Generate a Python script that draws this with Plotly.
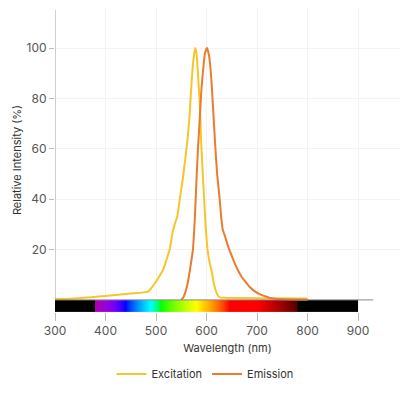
import plotly.graph_objects as go

# ---- data ----
ex_wl = [300, 330, 400, 450, 484, 492, 500, 507, 514, 520, 527, 533, 537, 542, 547, 553, 558,
         562, 566, 569, 572, 575, 577.5, 580, 583, 586, 589, 592, 595, 598, 602, 606, 610,
         614, 617, 620, 624, 628, 640, 700, 800]
ex_val = [0.4, 0.5, 1.6, 2.5, 3.3, 5.0, 7.3, 9.5, 12.0, 15.5, 20.0, 27.0, 30.0, 33.0, 40.0,
          48.0, 56.0, 63.0, 72.0, 82.0, 91.0, 97.0, 100.0, 98.0, 90.0, 80.0, 65.0, 52.0,
          41.0, 30.0, 20.0, 15.0, 11.5, 7.0, 4.5, 2.8, 1.3, 0.9, 0.8, 0.7, 0.6]

em_wl = [550, 554, 558, 563, 568, 573, 577, 580, 583, 586, 590, 594, 597, 601, 605, 609, 613,
         617, 621, 624, 626, 629, 632, 637, 643, 650, 657, 663, 670, 678, 686, 695, 705,
         715, 725, 740, 770, 800]
em_val = [0.0, 1.0, 3.0, 7.0, 13.0, 20.0, 33.0, 47.0, 60.0, 70.0, 84.0, 93.0, 98.0, 100.0,
          97.0, 89.0, 76.0, 62.0, 50.0, 44.0, 40.0, 33.0, 28.0, 25.0, 21.0, 17.5, 14.0,
          11.5, 9.0, 7.0, 5.0, 3.5, 2.3, 1.5, 0.8, 0.4, 0.2, 0.1]

x_ticks = [300, 400, 500, 600, 700, 800, 900]
y_ticks = [20, 40, 60, 80, 100]

EX_COLOR = "#F7C52A"
EM_COLOR = "#EC7B2D"
FONT = "Inter"

# ---- visible spectrum strip ----
def wl_rgb(w):
    if w < 380 or w > 780:
        return (0, 0, 0)
    if w < 440:
        r, g, b = -(w - 440) / 60, 0.0, 1.0
    elif w < 490:
        r, g, b = 0.0, (w - 440) / 50, 1.0
    elif w < 510:
        r, g, b = 0.0, 1.0, -(w - 510) / 20
    elif w < 580:
        r, g, b = (w - 510) / 70, 1.0, 0.0
    elif w < 645:
        r, g, b = 1.0, -(w - 645) / 65, 0.0
    else:
        r, g, b = 1.0, 0.0, 0.0
    if w < 420:
        f = 0.6 + 0.4 * (w - 380) / 40
    elif w <= 700:
        f = 1.0
    else:
        f = 0.25 + 0.75 * (780 - w) / 80
    c = lambda v: int(round(255 * (v * f) ** 0.8)) if v > 0 else 0
    return (c(r), c(g), c(b))

strip_edges = list(range(300, 901))
strip_centers = [w + 0.5 for w in range(300, 900)]
colorscale = []
for w in range(300, 901):
    rgb = wl_rgb(w)
    colorscale.append([(w - 300) / 600, "rgb(%d,%d,%d)" % rgb])

Y_MIN, Y_MAX = -4.8, 115.9

fig = go.Figure()
fig.add_trace(go.Heatmap(
    x=strip_edges, y=[Y_MIN, 0], z=[strip_centers],
    zmin=300, zmax=900, colorscale=colorscale, showscale=False,
    hoverinfo="skip", showlegend=False,
))
fig.add_trace(go.Scatter(
    x=ex_wl, y=ex_val, mode="lines", name="Excitation",
    line=dict(color=EX_COLOR, width=2, shape="spline", smoothing=0.5),
))
fig.add_trace(go.Scatter(
    x=em_wl, y=em_val, mode="lines", name="Emission",
    line=dict(color=EM_COLOR, width=2, shape="spline", smoothing=0.5),
))

# baseline and y axis line
fig.add_shape(type="line", xref="x", yref="y", x0=273, x1=930, y0=0, y1=0,
              line=dict(color="#8a8a8a", width=1), layer="above")
fig.add_shape(type="line", xref="x", yref="paper", x0=300, x1=300,
              y0=(0 - Y_MIN) / (Y_MAX - Y_MIN), y1=0.993,
              line=dict(color="#a0a0a0", width=1), layer="above")

# page has an 8px body margin, so the figure is 400x386
fig.update_layout(
    width=400, height=386,
    margin=dict(l=47, r=8, t=0, b=82),
    paper_bgcolor="white", plot_bgcolor="white",
    font=dict(family=FONT, size=12, color="#444"),
    showlegend=True,
    legend=dict(orientation="h", xref="container", yref="container",
                x=0.4925, xanchor="center", y=0.052, yanchor="middle",
                font=dict(size=11, color="#333"), itemwidth=30),
    xaxis=dict(range=[300, 983], tickvals=x_ticks, showgrid=True, gridcolor="#f3f3f3",
               zeroline=False, showline=False, ticks="outside", ticklen=8, automargin=False,
               tickcolor="#bbbbbb", tickfont=dict(size=12, color="#555"),
               title=dict(text="Wavelength (nm)", font=dict(size=11, color="#333"), standoff=6)),
    yaxis=dict(range=[Y_MIN, Y_MAX], tickvals=y_ticks, showgrid=True, gridcolor="#f3f3f3",
               zeroline=False, showline=False, ticks="outside", ticklen=5, automargin=False,
               tickcolor="#bbbbbb", tickfont=dict(size=12, color="#555"),
               title=dict(text="Relative Intensity (%)", font=dict(size=11, color="#333"), standoff=2)),
)

fig.write_html("out.html")
